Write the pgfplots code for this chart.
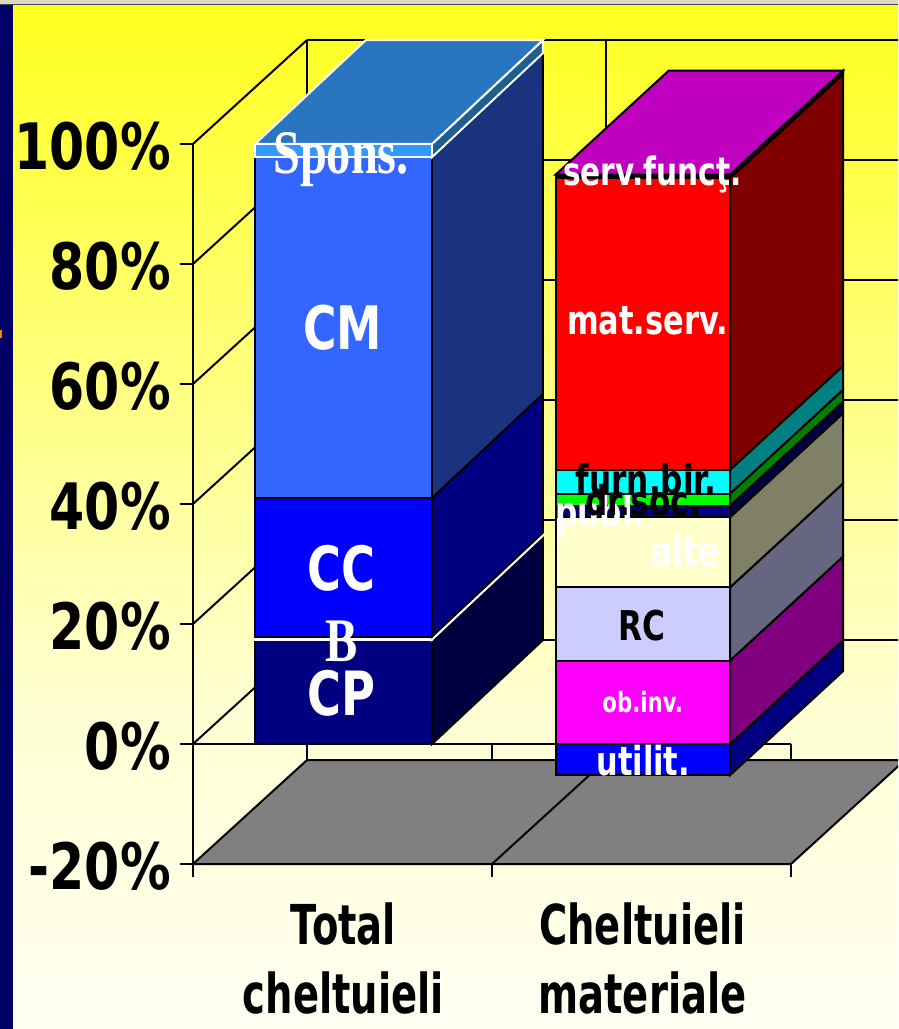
\documentclass[border=0pt]{standalone}
\usepackage{fontspec}
\usepackage{pgfplots}
\pgfplotsset{compat=1.18}
\newfontfamily\lab[FakeStretch=0.76]{DejaVu Sans}
\newfontfamily\labt[FakeStretch=0.79]{DejaVu Sans}
\newfontfamily\labx[FakeStretch=0.70]{DejaVu Sans}
\newfontfamily\tim[FakeStretch=0.78]{Liberation Serif}
\newcommand{\fs}[1]{\fontsize{#1}{#1}\selectfont\bfseries}
\definecolor{bgA}{HTML}{FFFF1E}
\definecolor{bgB}{HTML}{FFFFD2}
\definecolor{bgC}{HTML}{FFFFF2}
\definecolor{cmF}{HTML}{3366FF}
\definecolor{cmS}{HTML}{1A337F}
\definecolor{spF}{HTML}{3399FF}
\definecolor{spS}{HTML}{1F5F8F}
\definecolor{spT}{HTML}{2A75BF}
\definecolor{rcF}{HTML}{CCCCFF}
\definecolor{rcS}{HTML}{666680}
\definecolor{alF}{HTML}{FFFFCC}
\definecolor{alS}{HTML}{808066}
\definecolor{sfT}{HTML}{BF00BF}
\definecolor{mgF}{HTML}{FF00FF}
\definecolor{mgS}{HTML}{800080}
\definecolor{cyF}{HTML}{00FFFF}
\definecolor{cyS}{HTML}{008080}
\definecolor{grF}{HTML}{00FF00}
\definecolor{grS}{HTML}{008000}
\definecolor{reF}{HTML}{FF0000}
\definecolor{reS}{HTML}{800000}
\definecolor{blF}{HTML}{0000FF}
\definecolor{blS}{HTML}{000080}
\definecolor{nvF}{HTML}{000080}
\definecolor{nvS}{HTML}{000040}
% one stacked segment: xl xr depth lo hi front side edge
\newcommand{\seg}[8]{%
  \pgfmathsetmacro\xb{#2+#3}\pgfmathsetmacro\lob{#4+17.33}\pgfmathsetmacro\hib{#5+17.33}%
  \edef\tmp{\noexpand\addplot[draw=#8,fill=#7,line width=2pt] coordinates {(#2,#4)(\xb,\lob)(\xb,\hib)(#2,#5)} --cycle;
  \noexpand\addplot[draw=#8,fill=#6,line width=2pt] coordinates {(#1,#4)(#2,#4)(#2,#5)(#1,#5)} --cycle;}\tmp}
\newcommand{\topface}[6]{% xl xr depth hi fill edge
  \pgfmathsetmacro\xa{#1+#3}\pgfmathsetmacro\xb{#2+#3}\pgfmathsetmacro\hib{#4+17.33}%
  \edef\tmp{\noexpand\addplot[draw=#6,fill=#5,line width=2pt] coordinates {(#1,#4)(#2,#4)(\xb,\hib)(\xa,\hib)} --cycle;}\tmp}
\begin{document}
\begin{tikzpicture}
\path[use as bounding box,clip] (0pt,0pt) rectangle (898pt,1029pt);
\shade[top color=bgA,bottom color=bgB,shading angle=0] (0pt,329pt) rectangle (898pt,1024pt);
\shade[top color=bgB,bottom color=bgC] (0pt,0pt) rectangle (898pt,329pt);
\fill[color={rgb,255:red,222;green,216;blue,190}] (0pt,1025pt) rectangle (898pt,1029pt);
\fill[color={rgb,255:red,70;green,70;blue,90}] (0pt,1023.5pt) rectangle (898pt,1025pt);
\fill[color={rgb,255:red,0;green,0;blue,102}] (0pt,0pt) rectangle (13pt,1024pt);
\fill[color=orange] (0pt,691pt) rectangle (1.5pt,699pt);
\begin{axis}[
  at={(193pt,165pt)},anchor=south west,
  width=598pt,height=720pt,scale only axis,
  xmin=-0.5,xmax=1.5,ymin=-20,ymax=100,clip=false,
  axis lines=left,axis line style={-,line width=2pt},
  tick style={black,line width=2pt},
  tick align=outside,major tick length=13pt,
  ytick={-20,0,20,40,60,80,100},
  yticklabels={-20\%,0\%,20\%,40\%,60\%,80\%,100\%},
  yticklabel style={font=\labt\fs{64},inner sep=0pt,anchor=east,xshift=-9pt,yshift=-2pt},
  xtick={-0.5,0.5,1.5},xticklabels={},
  extra x ticks={0,1},
  extra x tick labels={Total\\[14pt]cheltuieli,Cheltuieli\\[14pt]materiale},
  extra x tick style={major tick length=0pt,tick style={draw=none},
    xticklabel style={font=\labx\fs{55},align=center,inner sep=0pt,anchor=north,yshift=-39pt,xshift=1pt}},
]
% floor
\addplot[draw=black,fill=gray,line width=2pt] coordinates {(-0.5,-20)(1.5,-20)(1.8813,-2.67)(-0.1187,-2.67)} --cycle;
\addplot[black,line width=2pt] coordinates {(0.5,-20)(0.8813,-2.67)};
% left wall diagonals
\addplot[black,line width=2pt] coordinates {(-0.5,0)(-0.1187,17.33)};
\addplot[black,line width=2pt] coordinates {(-0.5,20)(-0.1187,37.33)};
\addplot[black,line width=2pt] coordinates {(-0.5,40)(-0.1187,57.33)};
\addplot[black,line width=2pt] coordinates {(-0.5,60)(-0.1187,77.33)};
\addplot[black,line width=2pt] coordinates {(-0.5,80)(-0.1187,97.33)};
\addplot[black,line width=2pt] coordinates {(-0.5,100)(-0.1187,117.33)};
% back wall
\addplot[black,line width=2pt] coordinates {(-0.1187,17.33)(1.8813,17.33)};
\addplot[black,line width=2pt] coordinates {(-0.1187,37.33)(1.8813,37.33)};
\addplot[black,line width=2pt] coordinates {(-0.1187,57.33)(1.8813,57.33)};
\addplot[black,line width=2pt] coordinates {(-0.1187,77.33)(1.8813,77.33)};
\addplot[black,line width=2pt] coordinates {(-0.1187,97.33)(1.8813,97.33)};
\addplot[black,line width=2pt] coordinates {(-0.1187,117.33)(1.8813,117.33)};
\addplot[black,line width=2pt] coordinates {(-0.1187,-2.67)(-0.1187,117.33)};
\addplot[black,line width=2pt] coordinates {(0.8813,-2.67)(0.8813,117.33)};
% zero plane front line and drops
\addplot[black,line width=2pt] coordinates {(-0.5,0)(1.5,0)};
\addplot[black,line width=2pt] coordinates {(0.5,0)(0.5,-2.67)};
\addplot[black,line width=2pt] coordinates {(1.5,0)(1.5,-2.67)};
% Total cheltuieli
\seg{-0.2926}{0.2993}{0.371}{0}{17.5}{nvF}{nvS}{black}
\seg{-0.2926}{0.2993}{0.371}{17.4}{17.9}{white}{white}{white}
\seg{-0.2926}{0.2993}{0.371}{17.9}{41}{blF}{blS}{black}
\seg{-0.2926}{0.2993}{0.371}{41}{97.8}{cmF}{cmS}{black}
\seg{-0.2926}{0.2993}{0.371}{97.8}{100}{spF}{spS}{white}
\topface{-0.2926}{0.2993}{0.371}{100}{spT}{white}
% Cheltuieli materiale
\seg{0.7130}{1.2960}{0.378}{-5.2}{0}{blF}{blS}{black}
\seg{0.7130}{1.2960}{0.378}{0}{13.9}{mgF}{mgS}{black}
\seg{0.7130}{1.2960}{0.378}{13.9}{26.1}{rcF}{rcS}{black}
\seg{0.7130}{1.2960}{0.378}{26.1}{37.8}{alF}{alS}{black}
\seg{0.7130}{1.2960}{0.378}{37.8}{39.7}{nvF}{nvS}{black}
\seg{0.7130}{1.2960}{0.378}{39.7}{41.7}{grF}{grS}{black}
\seg{0.7130}{1.2960}{0.378}{41.7}{45.7}{cyF}{cyS}{black}
\seg{0.7130}{1.2960}{0.378}{45.7}{94.3}{reF}{reS}{black}
\seg{0.7130}{1.2960}{0.378}{94.3}{94.9}{black}{black}{black}
\topface{0.7130}{1.2960}{0.378}{94.9}{sfT}{black}
% labels
\node[anchor=base,white,font=\tim\fs{62}] at (axis cs:-0.005,95.0) {Spons.};
\node[anchor=base,white,font=\tim\fs{62}] at (axis cs:-0.002,13.7) {B};
\node[anchor=base,white,font=\lab\fs{60}] at (axis cs:0.0,65.7) {CM};
\node[anchor=base,white,font=\lab\fs{61}] at (axis cs:-0.003,25.5) {CC};
\node[anchor=base,white,font=\lab\fs{61}] at (axis cs:-0.003,4.7) {CP};
\node[anchor=base,black,font=\lab\fs{41}] at (axis cs:1.003,17.3) {RC};
\node[anchor=base,white,font=\lab\fs{28}] at (axis cs:1.004,5.2) {ob.inv.};
\node[anchor=base,white,font=\lab\fs{40}] at (axis cs:1.006,-5.2) {utilit.};
\node[anchor=base,white,font=\lab\fs{42}] at (axis cs:1.148,29.5) {alte};
\node[anchor=base,white,font=\lab\fs{41}] at (axis cs:0.861,36.2) {publ.};
\node[anchor=base,black,font=\lab\fs{41}] at (axis cs:1.006,38.0) {dr.soc.};
\node[anchor=base,black,font=\lab\fs{41}] at (axis cs:1.016,41.6) {furn.bir.};
\node[anchor=base,white,font=\lab\fs{40}] at (axis cs:1.02,68.2) {mat.serv.};
\node[anchor=base,white,font=\lab\fs{39}] at (axis cs:1.037,93.0) {serv.funcţ.};
\end{axis}
\end{tikzpicture}
\end{document}
